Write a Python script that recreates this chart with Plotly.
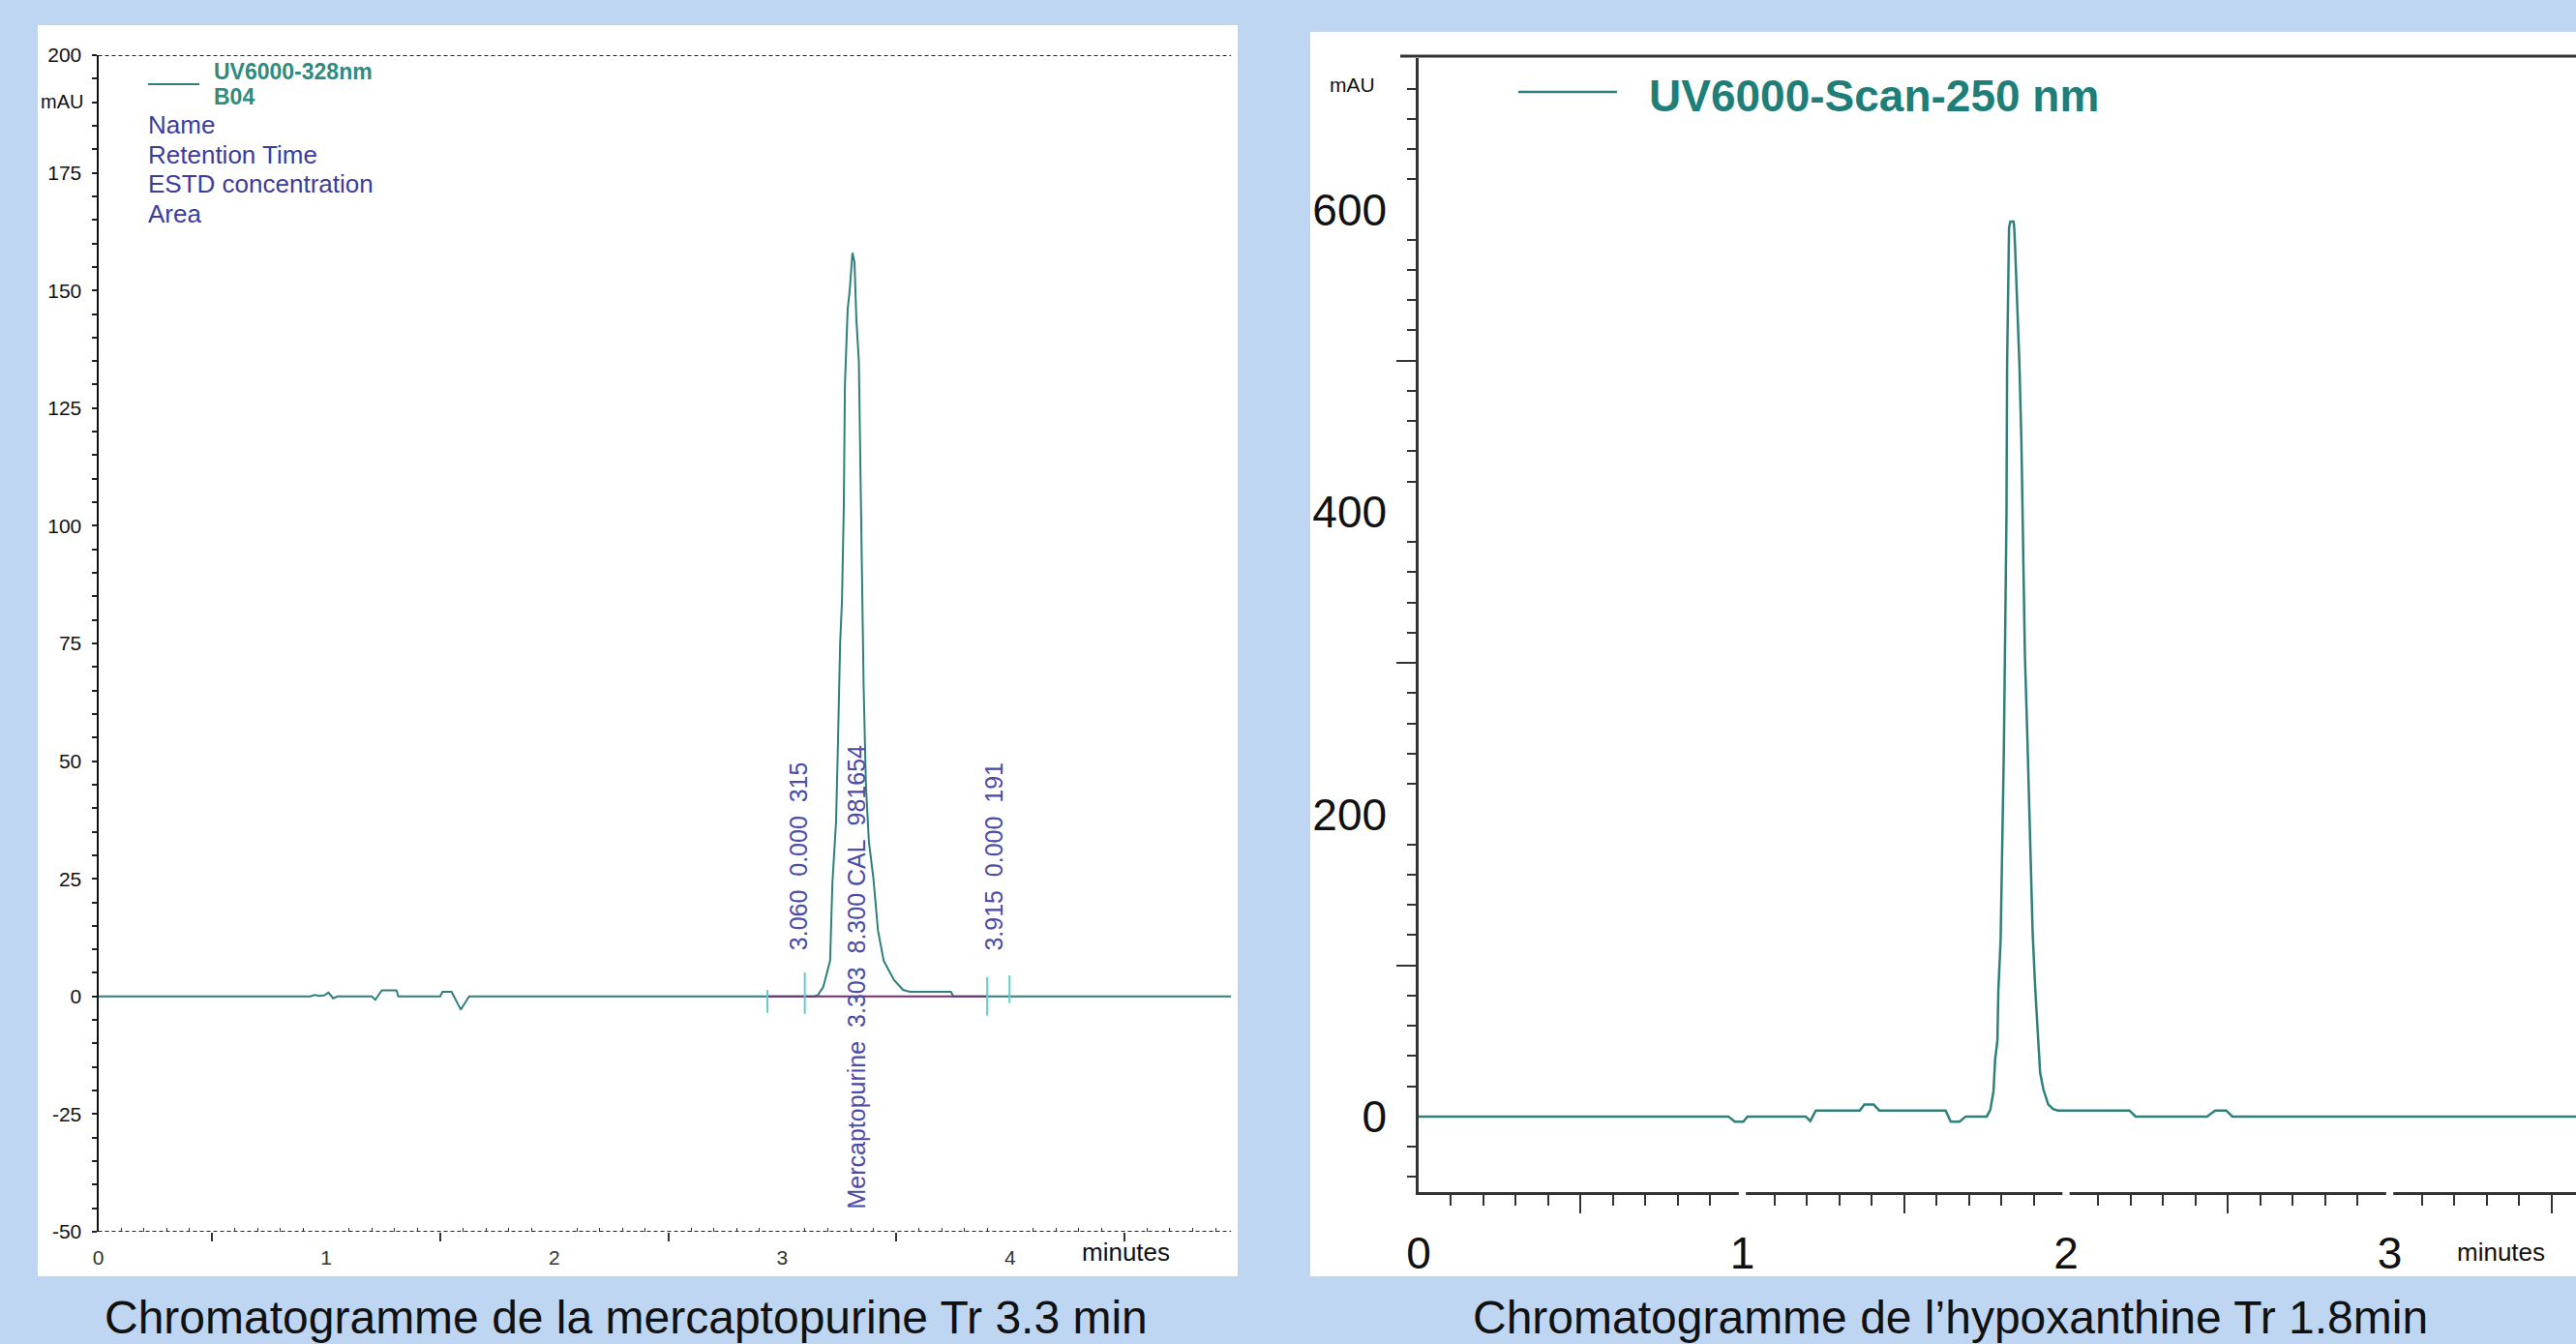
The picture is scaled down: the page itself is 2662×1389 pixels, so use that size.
import plotly.graph_objects as go

W, H = 2662, 1389
FONT = "Liberation Sans, Arial, sans-serif"
BG = "#bed6f2"

# ---------------- data : left chromatogram (mercaptopurine, UV 328 nm) ----------------
merc_time = [0.0, 0.93, 0.95, 0.97, 0.99, 1.01, 1.03, 1.05, 1.20, 1.215, 1.244, 1.308, 1.316,
             1.50, 1.51, 1.55, 1.59, 1.627, 3.14, 3.155, 3.18, 3.21, 3.22, 3.236, 3.245, 3.254,
             3.262, 3.27, 3.275, 3.287, 3.296, 3.305, 3.308, 3.317, 3.325, 3.336, 3.34, 3.35,
             3.357, 3.367, 3.38, 3.40, 3.42, 3.445, 3.49, 3.53, 3.56, 3.74, 3.75, 4.97]
merc_mau = [0.0, 0.0, 0.3, 0.1, 0.2, 0.8, -0.4, 0.0, 0.0, -0.7, 1.3, 1.3, 0.0,
            0.0, 1.0, 1.0, -2.8, 0.0, 0.0, 0.2, 2.0, 7.6, 24.0, 37.0, 55.0, 75.0,
            84.0, 104.0, 130.0, 146.0, 150.0, 157.0, 158.0, 156.0, 144.0, 135.0, 121.0, 91.0,
            66.0, 45.0, 33.0, 25.0, 14.0, 7.6, 3.5, 1.4, 1.0, 1.0, 0.0, 0.0]

# integration marks and baseline
marker_time = [2.935, 3.099, 3.899, 3.997]
marker_low = [-3.5, -3.7, -4.1, -1.4]
marker_high = [1.4, 5.1, 4.1, 4.5]
baseline_time = [2.935, 3.899]
baseline_mau = [0.0, 0.0]

peak_label_text = ["3.060\u00a0 0.000\u00a0 315",
                   "Mercaptopurine\u00a0 3.303\u00a0 8.300 CAL\u00a0 981654",
                   "3.915\u00a0 0.000\u00a0 191"]

# ---------------- data : right chromatogram (hypoxanthine, UV 250 nm) ----------------
hypo_time = [0.0, 0.957, 0.977, 1.003, 1.016, 1.196, 1.21, 1.227, 1.363, 1.377, 1.406, 1.423,
             1.628, 1.644, 1.671, 1.69, 1.755, 1.766, 1.776, 1.781, 1.788, 1.791, 1.798, 1.803,
             1.808, 1.816, 1.818, 1.824, 1.828, 1.838, 1.840, 1.843, 1.850, 1.856, 1.862, 1.867,
             1.873, 1.880, 1.886, 1.892, 1.897, 1.905, 1.913, 1.920, 1.930, 1.945, 1.96, 1.975,
             2.196, 2.215, 2.436, 2.461, 2.495, 2.514, 3.58]
hypo_mau = [0.0, 0.0, -3.4, -3.4, 0.0, 0.0, -3.0, 4.0, 4.0, 7.9, 7.9, 4.0,
            4.0, -3.4, -3.4, 0.0, 0.0, 4.3, 16.8, 37.7, 50.0, 84.0, 117.0, 188.0,
            243.0, 397.0, 498.0, 588.0, 592.0, 592.0, 588.0, 573.0, 536.0, 498.0, 448.0, 377.0,
            305.0, 255.0, 205.0, 155.0, 121.0, 84.0, 50.0, 29.0, 18.0, 8.0, 5.0, 4.0,
            4.0, 0.0, 0.0, 4.0, 4.0, 0.0, 0.0]

# ---------------- axes ticks ----------------
left_x_range = [0, 4.97]
left_y_range = [-50, 200]
left_x_ticks = [0, 1, 2, 3, 4]
left_x_half_ticks = [0.5, 1.5, 2.5, 3.5, 4.5]
left_x_minor = [round(i * 0.1, 1) for i in range(0, 50) if i % 5]
left_y_ticks = [-50, -25, 0, 25, 50, 75, 100, 125, 150, 175, 200]
left_y_labels = ["-50", "-25", "0", "25", "50", "75", "100", "125", "150", "175", "200"]
left_y_minor = [v for v in range(-50, 201, 5) if v % 25]

right_x_range = [0, 3.5755]
right_y_range = [-50, 700]
right_x_ticks = [0, 1, 2, 3]
right_x_half_ticks = [0.5, 1.5, 2.5, 3.5]
right_x_minor = [round(i * 0.1, 1) for i in range(0, 36) if i % 5]
right_y_ticks = [0, 200, 400, 600]
right_y_odd_ticks = [100, 300, 500]
right_y_minor = [v for v in range(-40, 700, 20) if v % 100]


def px(x):
    return x / W


def py(y):
    return 1 - y / H


TEAL = "#2f7f7a"
fig = go.Figure()

# left trace
fig.add_trace(go.Scatter(x=merc_time, y=merc_mau, mode="lines", xaxis="x", yaxis="y",
                         line=dict(color=TEAL, width=2), showlegend=False, hoverinfo="skip"))
fig.add_trace(go.Scatter(x=baseline_time, y=baseline_mau, mode="lines", xaxis="x", yaxis="y",
                         line=dict(color="#7a2a6e", width=2), showlegend=False, hoverinfo="skip"))
mx, my = [], []
for t, lo, hi in zip(marker_time, marker_low, marker_high):
    mx += [t, t, None]
    my += [lo, hi, None]
fig.add_trace(go.Scatter(x=mx, y=my, mode="lines", xaxis="x", yaxis="y",
                         line=dict(color="#5ccfcf", width=2), showlegend=False, hoverinfo="skip"))
# right trace
fig.add_trace(go.Scatter(x=hypo_time, y=hypo_mau, mode="lines", xaxis="x2", yaxis="y2",
                         line=dict(color=TEAL, width=2.5), showlegend=False, hoverinfo="skip"))
# dummy traces for overlay tick axes
fig.add_trace(go.Scatter(x=[None], y=[None], xaxis="x3", yaxis="y", showlegend=False, hoverinfo="skip"))
fig.add_trace(go.Scatter(x=[None], y=[None], xaxis="x4", yaxis="y2", showlegend=False, hoverinfo="skip"))
fig.add_trace(go.Scatter(x=[None], y=[None], xaxis="x2", yaxis="y3", showlegend=False, hoverinfo="skip"))

noline = dict(showgrid=False, zeroline=False)

left_xdom = [px(101.5), px(1272.5)]
right_xdom = [px(1466), 1.0]

fig.update_layout(
    width=W, height=H, margin=dict(l=0, r=0, t=0, b=0, pad=0, autoexpand=False),
    paper_bgcolor=BG, plot_bgcolor="rgba(0,0,0,0)",
    font=dict(family=FONT, color="#111"),
    xaxis=dict(domain=left_xdom, range=left_x_range, anchor="y", tickmode="array",
               tickvals=left_x_ticks, ticks="", showline=False,
               tickfont=dict(size=21, color="#333"), ticklabelstandoff=12,
               minor=dict(tickmode="array", tickvals=left_x_minor, ticks="inside", ticklen=4,
                          tickwidth=1, tickcolor="#333"), **noline),
    xaxis3=dict(overlaying="x", anchor="y", range=left_x_range, tickmode="array",
                tickvals=left_x_half_ticks, ticks="outside", ticklen=9, tickwidth=1.5,
                tickcolor="#333", showticklabels=False, showline=False, **noline),
    yaxis=dict(domain=[py(1273), py(57)], range=left_y_range, anchor="x", tickmode="array",
               tickvals=left_y_ticks, ticktext=left_y_labels, ticks="outside", ticklen=5,
               tickwidth=1.5, tickcolor="#222",
               showline=True, linecolor="#111", linewidth=2,
               tickfont=dict(size=21, color="#111"), ticklabelstandoff=6,
               minor=dict(tickmode="array", tickvals=left_y_minor, ticks="outside", ticklen=5,
                          tickwidth=1.5, tickcolor="#222"), **noline),
    xaxis2=dict(domain=right_xdom, range=right_x_range, anchor="y2", tickmode="array",
                tickvals=right_x_ticks, ticks="", showline=True, linecolor="#333", linewidth=2.5,
                tickfont=dict(size=46, color="#111"), ticklabelstandoff=21,
                minor=dict(tickmode="array", tickvals=right_x_minor, ticks="outside", ticklen=11,
                           tickwidth=2, tickcolor="#333"), **noline),
    xaxis4=dict(overlaying="x2", anchor="y2", range=right_x_range, tickmode="array",
                tickvals=right_x_half_ticks, ticks="outside", ticklen=21, tickwidth=2,
                tickcolor="#333", showticklabels=False, showline=False, **noline),
    yaxis2=dict(domain=[py(1232), py(60.25)], range=right_y_range, anchor="x2", tickmode="array",
                tickvals=right_y_ticks, ticks="", showline=True, linecolor="#333", linewidth=2.5,
                tickfont=dict(size=46, color="#111"), ticklabelstandoff=21,
                minor=dict(tickmode="array", tickvals=right_y_minor, ticks="outside", ticklen=9,
                           tickwidth=2, tickcolor="#333"), **noline),
    yaxis3=dict(overlaying="y2", anchor="x2", side="left", range=right_y_range, tickmode="array",
                tickvals=right_y_odd_ticks, ticks="outside", ticklen=22, tickwidth=2,
                tickcolor="#333", showticklabels=False, showline=False, **noline),
)

shapes = [
    # white panels
    dict(type="rect", xref="paper", yref="paper", x0=px(39), x1=px(1279), y0=py(1319), y1=py(26),
         fillcolor="white", line=dict(width=0), layer="below"),
    dict(type="rect", xref="paper", yref="paper", x0=px(1354), x1=1.0, y0=py(1319), y1=py(33),
         fillcolor="white", line=dict(width=0), layer="below"),
    # left dotted frame lines (top 200, bottom -50)
    dict(type="line", xref="x", yref="y", x0=left_x_range[0], x1=left_x_range[1],
         y0=left_y_range[1], y1=left_y_range[1], line=dict(color="#222", width=2, dash="4px,3px")),
    dict(type="line", xref="x", yref="y", x0=left_x_range[0], x1=left_x_range[1],
         y0=left_y_range[0], y1=left_y_range[0], line=dict(color="#222", width=2, dash="4px,3px")),
    # right top frame line
    dict(type="line", xref="paper", yref="paper", x0=px(1447), x1=1.0, y0=py(58), y1=py(58),
         line=dict(color="#333", width=3)),
    # legend samples
    dict(type="line", xref="paper", yref="paper", x0=px(153), x1=px(206), y0=py(87), y1=py(87),
         line=dict(color=TEAL, width=2)),
    dict(type="line", xref="paper", yref="paper", x0=px(1569), x1=px(1671), y0=py(95), y1=py(95),
         line=dict(color=TEAL, width=2.5)),
]
# gaps in the right x axis line at each whole minute
for t in right_x_ticks[1:]:
    shapes.append(dict(type="rect", xref="x2", yref="paper", x0=t - 0.011, x1=t + 0.011,
                       y0=py(1238), y1=py(1227), fillcolor="white", line=dict(width=0),
                       layer="above"))
fig.update_layout(shapes=shapes)

ann = []
BLUE = "#3c3ca0"
# left legend
ann.append(dict(text="<b>UV6000-328nm</b>", x=px(219), y=py(74), xanchor="left", yanchor="middle",
                font=dict(size=23, color="#2e8b80")))
ann.append(dict(text="<b>B04</b>", x=px(219), y=py(100), xanchor="left", yanchor="middle",
                font=dict(size=23, color="#2e8b80")))
for lbl, yy in zip(["Name", "Retention Time", "ESTD concentration", "Area"], [129, 160, 190, 221]):
    ann.append(dict(text=lbl, x=px(151), y=py(yy), xanchor="left", yanchor="middle",
                    font=dict(size=26, color=BLUE)))
# axis unit labels
ann.append(dict(text="mAU", x=px(88), y=py(105), xanchor="right", yanchor="middle",
                font=dict(size=20, color="#111")))
ann.append(dict(text="minutes", x=px(1163), y=py(1294), xanchor="center", yanchor="middle",
                font=dict(size=26, color="#111")))
ann.append(dict(text="mAU", x=px(1397), y=py(87), xanchor="center", yanchor="middle",
                font=dict(size=21, color="#111")))
ann.append(dict(text="minutes", x=px(2584), y=py(1294), xanchor="center", yanchor="middle",
                font=dict(size=26, color="#111")))
# right legend
ann.append(dict(text="<b>UV6000-Scan-250 nm</b>", x=px(1702), y=py(99), xanchor="left",
                yanchor="middle", font=dict(size=46, color="#1f7f78")))
# rotated peak labels
for txt, t, ymid in zip(peak_label_text, [3.068, 3.325, 3.927], [29.8, 4.15, 29.8]):
    ann.append(dict(text=txt, x=t, y=ymid, xref="x", yref="y", xanchor="center", yanchor="middle",
                    textangle=-90, font=dict(size=25, color="#4b4ba8")))
# captions
ann.append(dict(text="Chromatogramme de la mercaptopurine Tr 3.3 min", x=px(647), y=py(1361),
                xanchor="center", yanchor="middle", font=dict(size=48, color="#111")))
ann.append(dict(text="Chromatogramme de l\u2019hypoxanthine Tr 1.8min", x=px(2015), y=py(1361),
                xanchor="center", yanchor="middle", font=dict(size=48, color="#111")))
for a in ann:
    a.setdefault("xref", "paper")
    a.setdefault("yref", "paper")
    a["showarrow"] = False
fig.update_layout(annotations=ann)

page_js = ("document.body.style.margin='0';document.body.style.overflow='hidden';"
           "document.body.style.background='" + BG + "';")
fig.write_html("out.html", post_script=page_js, config={"displayModeBar": False})
